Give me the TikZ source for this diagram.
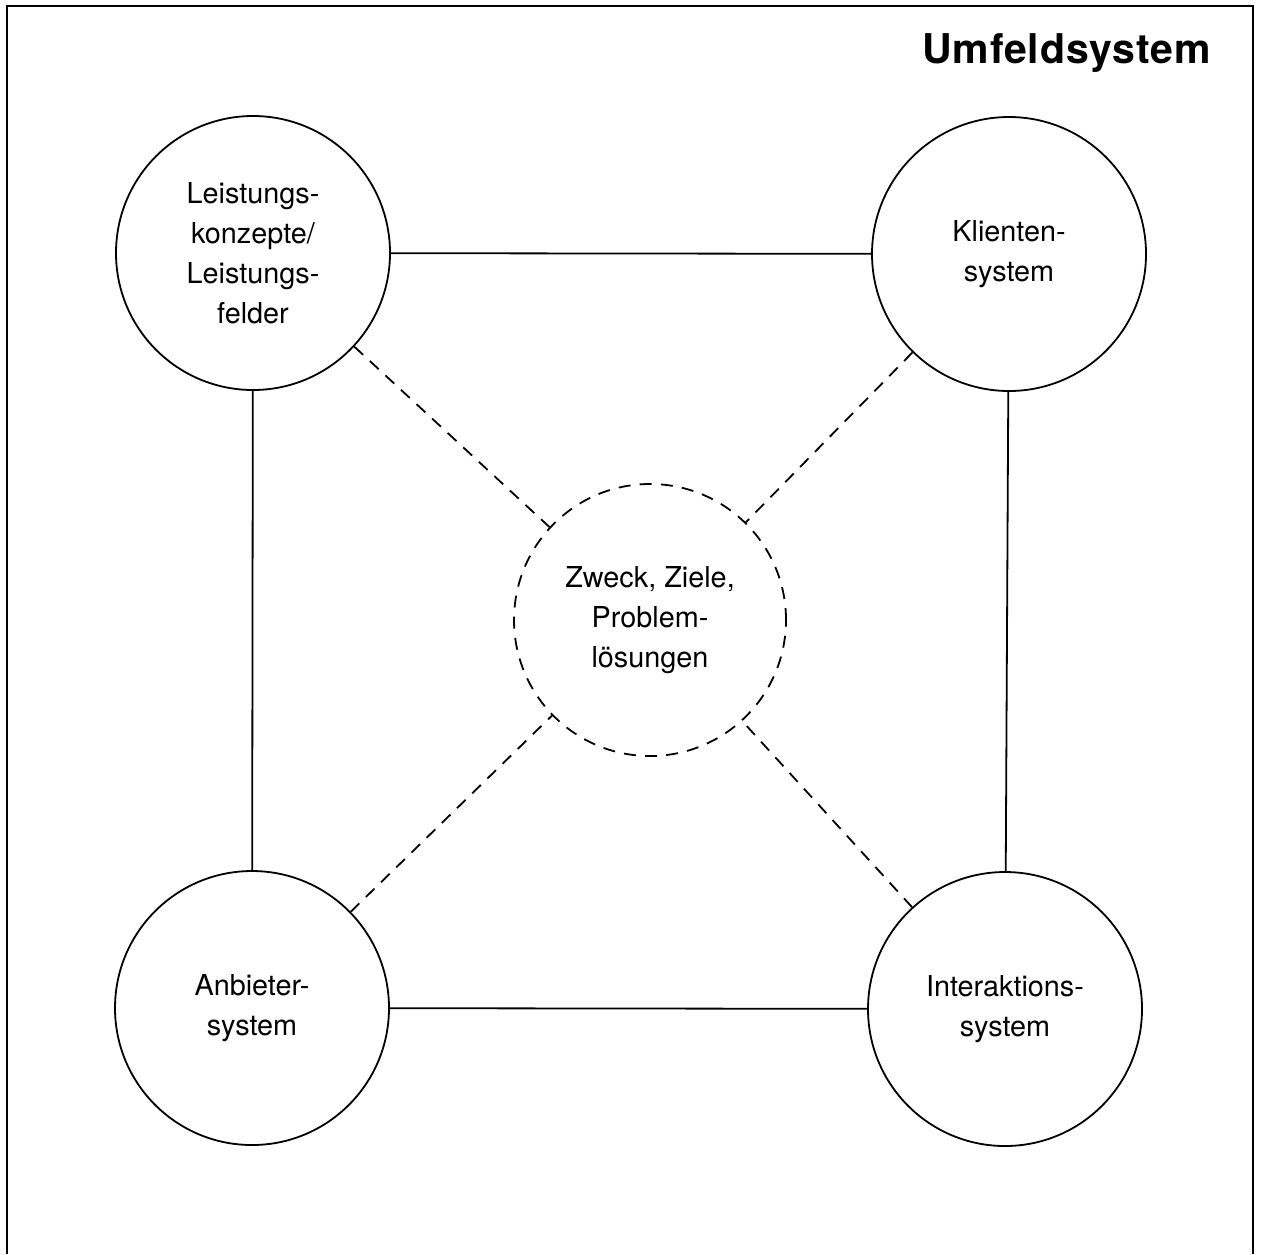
\documentclass[tikz,border=0pt]{standalone}
\usepackage{fontspec}
\setmainfont{TeX Gyre Heros}
\usepackage{tikz}

\begin{document}
\begin{tikzpicture}[x=0.5pt, y=-0.5pt,
    feld/.style={circle, draw, line width=0.9pt, minimum size=137pt, inner sep=0pt,
        align=center, font=\fontsize{14.4}{20}\selectfont},
    zweck/.style={feld, dash pattern=on 6pt off 4.6pt, minimum size=136pt},
    bezug/.style={line width=0.9pt, dash pattern=on 6pt off 4.6pt}]
    \useasboundingbox (0,0) rectangle (1261,1254);

    % Rahmen, unten offen
    \draw[line width=1.4pt] (7,1254) -- (7,6) -- (1253,6) -- (1253,1254);
    \node[anchor=base east, inner sep=0pt,
        font=\fontsize{20.5}{24}\selectfont\bfseries\addfontfeature{LetterSpace=2}]
        (umfeld) at (1211,63) {Umfeldsystem};

    \node[feld] (leistung) at (253,253) {Leistungs-\\konzepte/\\Leistungs-\\felder};
    \node[feld] (klient) at (1009,254) {Klienten-\\system};
    \node[feld] (anbieter) at (252,1008) {Anbieter-\\system};
    \node[feld] (interaktion) at (1005,1009) {Interaktions-\\system};
    \node[zweck] (mitte) at (650,620) {Zweck, Ziele,\\Problem-\\lösungen};

    \draw[line width=0.9pt] (leistung) -- (klient);
    \draw[line width=0.9pt] (leistung) -- (anbieter);
    \draw[line width=0.9pt] (klient) -- (interaktion);
    \draw[line width=0.9pt] (anbieter) -- (interaktion);

    \foreach \ecke in {leistung, klient, anbieter, interaktion} {
        \draw[bezug] (\ecke) -- (mitte);
    }
\end{tikzpicture}
\end{document}
